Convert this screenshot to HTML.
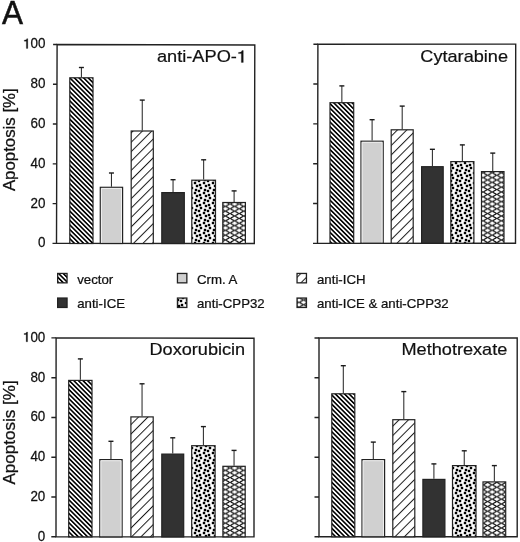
<!DOCTYPE html>
<html><head><meta charset="utf-8"><title>Apoptosis chart</title>
<style>
html,body{margin:0;padding:0;background:#fff;}
body{width:520px;height:542px;overflow:hidden;}
svg{display:block;will-change:transform;}
text{font-family:"Liberation Sans",sans-serif;fill:#111;}
</style></head><body>
<svg width="520" height="542" viewBox="0 0 520 542">
<defs>
<pattern id="pVec" patternUnits="userSpaceOnUse" width="3.25" height="10" patternTransform="rotate(-45)">
<rect width="3.25" height="10" fill="#fff"/><rect width="1.6" height="10" fill="#000"/></pattern>
<pattern id="pIch" patternUnits="userSpaceOnUse" width="6.65" height="10" patternTransform="rotate(45)">
<rect width="6.65" height="10" fill="#fff"/><rect width="1.0" height="10" fill="#1a1a1a"/></pattern>
<pattern id="pDot" patternUnits="userSpaceOnUse" width="9" height="10">
<rect width="9" height="10" fill="#fff"/>
<g fill="#000"><rect x="-0.2" y="-0.2" width="2.4" height="2.4"/><rect x="-0.2" y="9.8" width="2.4" height="2.4"/><rect x="8.8" y="-0.2" width="2.4" height="2.4"/><rect x="8.8" y="9.8" width="2.4" height="2.4"/><rect x="4.8" y="1.8" width="2.4" height="2.4"/><rect x="0.8" y="3.8" width="2.4" height="2.4"/><rect x="6.8" y="4.8" width="2.4" height="2.4"/><rect x="-2.2" y="4.8" width="2.4" height="2.4"/><rect x="1.8" y="6.8" width="2.4" height="2.4"/><rect x="5.8" y="8.8" width="2.4" height="2.4"/><rect x="5.8" y="-1.2" width="2.4" height="2.4"/></g></pattern>
<pattern id="pX" patternUnits="userSpaceOnUse" width="9.2" height="4.8">
<rect width="9.2" height="4.8" fill="#000"/>
<path d="M-3.40 0.00 L-1.05 -1.15 L0.00 -2.10 L1.05 -1.15 L3.40 0.00 L1.05 1.15 L0.00 2.10 L-1.05 1.15ZM5.80 0.00 L8.15 -1.15 L9.20 -2.10 L10.25 -1.15 L12.60 0.00 L10.25 1.15 L9.20 2.10 L8.15 1.15ZM-3.40 4.80 L-1.05 3.65 L0.00 2.70 L1.05 3.65 L3.40 4.80 L1.05 5.95 L0.00 6.90 L-1.05 5.95ZM5.80 4.80 L8.15 3.65 L9.20 2.70 L10.25 3.65 L12.60 4.80 L10.25 5.95 L9.20 6.90 L8.15 5.95ZM1.20 2.40 L3.55 1.25 L4.60 0.30 L5.65 1.25 L8.00 2.40 L5.65 3.55 L4.60 4.50 L3.55 3.55Z" fill="#fff"/>
</pattern>
</defs>

<text transform="translate(2 23.9) scale(0.955 1)" font-size="33" text-anchor="start" stroke="#111" stroke-width="0.5">A</text>
<path d="M57.1 44.5 L254.8 45 L254.3 243.5 L56.5 243.4Z" fill="none" stroke="#222" stroke-width="1.4" stroke-linejoin="miter"/>
<path d="M52.5 243.4H56.5M52.62 203.62H56.62M52.74 163.84H56.74M52.86 124.06H56.86M52.98 84.28H56.98M53.1 44.5H57.1" stroke="#222" stroke-width="1.4" fill="none"/>
<text transform="translate(45.5 247.4) scale(0.945 1)" font-size="14.2" text-anchor="end" stroke="#111" stroke-width="0.25">0</text>
<text transform="translate(45.5 207.6) scale(0.945 1)" font-size="14.2" text-anchor="end" stroke="#111" stroke-width="0.25">20</text>
<text transform="translate(45.5 167.8) scale(0.945 1)" font-size="14.2" text-anchor="end" stroke="#111" stroke-width="0.25">40</text>
<text transform="translate(45.5 128) scale(0.945 1)" font-size="14.2" text-anchor="end" stroke="#111" stroke-width="0.25">60</text>
<text transform="translate(45.5 88.2) scale(0.945 1)" font-size="14.2" text-anchor="end" stroke="#111" stroke-width="0.25">80</text>
<text transform="translate(45.5 48.4) scale(0.945 1)" font-size="14.2" text-anchor="end" stroke="#111" stroke-width="0.25">00</text>
<path transform="translate(23.11 48.4) scale(0.006552 -0.006934)" d="M495 0H715V1409H565C550 1330 505 1265 435 1232C365 1200 280 1190 170 1190V1045H495Z" fill="#111" stroke="#111" stroke-width="36.06"/>
<text transform="translate(15.4 139.7) rotate(-90) scale(1.065 1)" font-size="15.8" text-anchor="middle" stroke="#111" stroke-width="0.25">Apoptosis [%]</text>
<text transform="translate(236.93 62.4) scale(1.06 1)" font-size="17.2" text-anchor="end" stroke="#111" stroke-width="0.22">anti-APO-</text>
<path transform="translate(236.93 62.4) scale(0.008902 -0.008398)" d="M495 0H715V1409H565C550 1330 505 1265 435 1232C365 1200 280 1190 170 1190V1045H495Z" fill="#111" stroke="#111" stroke-width="29.77"/>
<path d="M81.4 77.2V67.4" stroke="#2a2a2a" stroke-width="1.05" fill="none"/>
<path d="M78.9 67.5H83.9" stroke="#1a1a1a" stroke-width="1.4" fill="none"/>
<rect x="69.8" y="77.8" width="23.2" height="165.7" fill="url(#pVec)" stroke="#222" stroke-width="1.2"/>
<path d="M111.45 186.7V172.9" stroke="#2a2a2a" stroke-width="1.05" fill="none"/>
<path d="M108.95 173H113.95" stroke="#1a1a1a" stroke-width="1.4" fill="none"/>
<rect x="100.3" y="187.3" width="22.3" height="56.2" fill="#d0d0d0" stroke="#222" stroke-width="1.2"/>
<path d="M101.4 242.7V188.4H121.5V242.7" fill="none" stroke="#f2f2f2" stroke-width="0.9"/>
<path d="M142.25 130.4V100" stroke="#2a2a2a" stroke-width="1.05" fill="none"/>
<path d="M139.75 100.1H144.75" stroke="#1a1a1a" stroke-width="1.4" fill="none"/>
<rect x="131.2" y="131" width="22.1" height="112.5" fill="url(#pIch)" stroke="#222" stroke-width="1.2"/>
<path d="M173.05 192V179.6" stroke="#2a2a2a" stroke-width="1.05" fill="none"/>
<path d="M170.55 179.7H175.55" stroke="#1a1a1a" stroke-width="1.4" fill="none"/>
<rect x="161.8" y="192.6" width="22.5" height="50.9" fill="#323232" stroke="#222" stroke-width="1.2"/>
<path d="M203.65 179.6V159.7" stroke="#2a2a2a" stroke-width="1.05" fill="none"/>
<path d="M201.15 159.8H206.15" stroke="#1a1a1a" stroke-width="1.4" fill="none"/>
<rect x="191.8" y="180.2" width="23.7" height="63.3" fill="url(#pDot)" stroke="#222" stroke-width="1.2"/>
<path d="M234.1 201.9V190.8" stroke="#2a2a2a" stroke-width="1.05" fill="none"/>
<path d="M231.6 190.9H236.6" stroke="#1a1a1a" stroke-width="1.4" fill="none"/>
<rect x="222.8" y="202.5" width="22.6" height="41" fill="url(#pX)" stroke="#222" stroke-width="1.2"/>
<path d="M317.9 44.2 L515.7 44.1 L515.5 243.2 L317.5 243.4Z" fill="none" stroke="#222" stroke-width="1.4" stroke-linejoin="miter"/>
<path d="M313 243.4H317.5M313.08 203.56H317.58M313.16 163.72H317.66M313.24 123.88H317.74M313.32 84.04H317.82M313.4 44.2H317.9" stroke="#222" stroke-width="1.4" fill="none"/>
<text transform="translate(508 61.9) scale(1.055 1)" font-size="17.2" text-anchor="end" stroke="#111" stroke-width="0.22">Cytarabine</text>
<path d="M341.85 102.1V85.8" stroke="#2a2a2a" stroke-width="1.05" fill="none"/>
<path d="M339.35 85.9H344.35" stroke="#1a1a1a" stroke-width="1.4" fill="none"/>
<rect x="330" y="102.7" width="23.7" height="140.5" fill="url(#pVec)" stroke="#222" stroke-width="1.2"/>
<path d="M372.1 140.6V119.6" stroke="#2a2a2a" stroke-width="1.05" fill="none"/>
<path d="M369.6 119.7H374.6" stroke="#1a1a1a" stroke-width="1.4" fill="none"/>
<rect x="361" y="141.2" width="22.2" height="102" fill="#d0d0d0" stroke="#222" stroke-width="1.2"/>
<path d="M362.1 242.4V142.3H382.1V242.4" fill="none" stroke="#f2f2f2" stroke-width="0.9"/>
<path d="M402.2 129.2V106" stroke="#2a2a2a" stroke-width="1.05" fill="none"/>
<path d="M399.7 106.1H404.7" stroke="#1a1a1a" stroke-width="1.4" fill="none"/>
<rect x="391.2" y="129.8" width="22" height="113.4" fill="url(#pIch)" stroke="#222" stroke-width="1.2"/>
<path d="M432.4 166.1V149.2" stroke="#2a2a2a" stroke-width="1.05" fill="none"/>
<path d="M429.9 149.3H434.9" stroke="#1a1a1a" stroke-width="1.4" fill="none"/>
<rect x="421.6" y="166.7" width="21.6" height="76.5" fill="#323232" stroke="#222" stroke-width="1.2"/>
<path d="M462.35 161V144.8" stroke="#2a2a2a" stroke-width="1.05" fill="none"/>
<path d="M459.85 144.9H464.85" stroke="#1a1a1a" stroke-width="1.4" fill="none"/>
<rect x="450.8" y="161.6" width="23.1" height="81.6" fill="url(#pDot)" stroke="#222" stroke-width="1.2"/>
<path d="M492.75 171V153" stroke="#2a2a2a" stroke-width="1.05" fill="none"/>
<path d="M490.25 153.1H495.25" stroke="#1a1a1a" stroke-width="1.4" fill="none"/>
<rect x="481.5" y="171.6" width="22.5" height="71.6" fill="url(#pX)" stroke="#222" stroke-width="1.2"/>
<path d="M56.1 337.9 L254 338.2 L254 536.9 L56 536.8Z" fill="none" stroke="#222" stroke-width="1.4" stroke-linejoin="miter"/>
<path d="M51.3 536.8H56M51.32 497.02H56.02M51.34 457.24H56.04M51.36 417.46H56.06M51.38 377.68H56.08M51.4 337.9H56.1" stroke="#222" stroke-width="1.4" fill="none"/>
<text transform="translate(45.3 540.8) scale(0.945 1)" font-size="14.2" text-anchor="end" stroke="#111" stroke-width="0.25">0</text>
<text transform="translate(45.3 501) scale(0.945 1)" font-size="14.2" text-anchor="end" stroke="#111" stroke-width="0.25">20</text>
<text transform="translate(45.3 461.2) scale(0.945 1)" font-size="14.2" text-anchor="end" stroke="#111" stroke-width="0.25">40</text>
<text transform="translate(45.3 421.4) scale(0.945 1)" font-size="14.2" text-anchor="end" stroke="#111" stroke-width="0.25">60</text>
<text transform="translate(45.3 381.6) scale(0.945 1)" font-size="14.2" text-anchor="end" stroke="#111" stroke-width="0.25">80</text>
<text transform="translate(45.3 341.8) scale(0.945 1)" font-size="14.2" text-anchor="end" stroke="#111" stroke-width="0.25">00</text>
<path transform="translate(22.91 341.8) scale(0.006552 -0.006934)" d="M495 0H715V1409H565C550 1330 505 1265 435 1232C365 1200 280 1190 170 1190V1045H495Z" fill="#111" stroke="#111" stroke-width="36.06"/>
<text transform="translate(15.4 432.4) rotate(-90) scale(1.08 1)" font-size="15.8" text-anchor="middle" stroke="#111" stroke-width="0.25">Apoptosis [%]</text>
<text transform="translate(245.2 355.3) scale(1.055 1)" font-size="17.2" text-anchor="end" stroke="#111" stroke-width="0.22">Doxorubicin</text>
<path d="M80.35 379.8V358.8" stroke="#2a2a2a" stroke-width="1.05" fill="none"/>
<path d="M77.85 358.9H82.85" stroke="#1a1a1a" stroke-width="1.4" fill="none"/>
<rect x="68.7" y="380.4" width="23.3" height="156.5" fill="url(#pVec)" stroke="#222" stroke-width="1.2"/>
<path d="M110.95 459V441.2" stroke="#2a2a2a" stroke-width="1.05" fill="none"/>
<path d="M108.45 441.3H113.45" stroke="#1a1a1a" stroke-width="1.4" fill="none"/>
<rect x="99.8" y="459.6" width="22.3" height="77.3" fill="#d0d0d0" stroke="#222" stroke-width="1.2"/>
<path d="M100.9 536.1V460.7H121V536.1" fill="none" stroke="#f2f2f2" stroke-width="0.9"/>
<path d="M142.05 416.3V383.7" stroke="#2a2a2a" stroke-width="1.05" fill="none"/>
<path d="M139.55 383.8H144.55" stroke="#1a1a1a" stroke-width="1.4" fill="none"/>
<rect x="130.9" y="416.9" width="22.3" height="120" fill="url(#pIch)" stroke="#222" stroke-width="1.2"/>
<path d="M172.75 453.5V437.7" stroke="#2a2a2a" stroke-width="1.05" fill="none"/>
<path d="M170.25 437.8H175.25" stroke="#1a1a1a" stroke-width="1.4" fill="none"/>
<rect x="161.8" y="454.1" width="21.9" height="82.8" fill="#323232" stroke="#222" stroke-width="1.2"/>
<path d="M203.4 445.1V426.5" stroke="#2a2a2a" stroke-width="1.05" fill="none"/>
<path d="M200.9 426.6H205.9" stroke="#1a1a1a" stroke-width="1.4" fill="none"/>
<rect x="191.7" y="445.7" width="23.4" height="91.2" fill="url(#pDot)" stroke="#222" stroke-width="1.2"/>
<path d="M234.05 465.7V450.3" stroke="#2a2a2a" stroke-width="1.05" fill="none"/>
<path d="M231.55 450.4H236.55" stroke="#1a1a1a" stroke-width="1.4" fill="none"/>
<rect x="222.9" y="466.3" width="22.3" height="70.6" fill="url(#pX)" stroke="#222" stroke-width="1.2"/>
<path d="M319 338 L517.2 338 L517.2 536.8 L319 536.8Z" fill="none" stroke="#222" stroke-width="1.4" stroke-linejoin="miter"/>
<path d="M314.5 536.8H319M314.5 497.04H319M314.5 457.28H319M314.5 417.52H319M314.5 377.76H319M314.5 338H319" stroke="#222" stroke-width="1.4" fill="none"/>
<text transform="translate(507.3 355.3) scale(1.055 1)" font-size="17.2" text-anchor="end" stroke="#111" stroke-width="0.22">Methotrexate</text>
<path d="M343.3 393.2V365.6" stroke="#2a2a2a" stroke-width="1.05" fill="none"/>
<path d="M340.8 365.7H345.8" stroke="#1a1a1a" stroke-width="1.4" fill="none"/>
<rect x="331.8" y="393.8" width="23" height="143" fill="url(#pVec)" stroke="#222" stroke-width="1.2"/>
<path d="M373.3 459V442" stroke="#2a2a2a" stroke-width="1.05" fill="none"/>
<path d="M370.8 442.1H375.8" stroke="#1a1a1a" stroke-width="1.4" fill="none"/>
<rect x="362" y="459.6" width="22.6" height="77.2" fill="#d0d0d0" stroke="#222" stroke-width="1.2"/>
<path d="M363.1 536V460.7H383.5V536" fill="none" stroke="#f2f2f2" stroke-width="0.9"/>
<path d="M403.8 419.1V391.5" stroke="#2a2a2a" stroke-width="1.05" fill="none"/>
<path d="M401.3 391.6H406.3" stroke="#1a1a1a" stroke-width="1.4" fill="none"/>
<rect x="392.8" y="419.7" width="22" height="117.1" fill="url(#pIch)" stroke="#222" stroke-width="1.2"/>
<path d="M433.9 478.8V463.8" stroke="#2a2a2a" stroke-width="1.05" fill="none"/>
<path d="M431.4 463.9H436.4" stroke="#1a1a1a" stroke-width="1.4" fill="none"/>
<rect x="422.9" y="479.4" width="22" height="57.4" fill="#323232" stroke="#222" stroke-width="1.2"/>
<path d="M464.25 465V450.7" stroke="#2a2a2a" stroke-width="1.05" fill="none"/>
<path d="M461.75 450.8H466.75" stroke="#1a1a1a" stroke-width="1.4" fill="none"/>
<rect x="452.5" y="465.6" width="23.5" height="71.2" fill="url(#pDot)" stroke="#222" stroke-width="1.2"/>
<path d="M494.35 481.3V465.5" stroke="#2a2a2a" stroke-width="1.05" fill="none"/>
<path d="M491.85 465.6H496.85" stroke="#1a1a1a" stroke-width="1.4" fill="none"/>
<rect x="483" y="481.9" width="22.7" height="54.9" fill="url(#pX)" stroke="#222" stroke-width="1.2"/>
<rect x="57.65" y="273.45" width="9.4" height="9.4" fill="url(#pVec)" stroke="#222" stroke-width="1.3"/>
<text transform="translate(77.2 283.5) scale(1.035 1)" font-size="12.8" text-anchor="start" stroke="#111" stroke-width="0.25">vector</text>
<rect x="177.45" y="273.45" width="9.4" height="9.4" fill="#d0d0d0" stroke="#222" stroke-width="1.3"/>
<text transform="translate(197 283.5) scale(1.035 1)" font-size="12.8" text-anchor="start" stroke="#111" stroke-width="0.25">Crm. A</text>
<rect x="297.05" y="273.45" width="9.4" height="9.4" fill="url(#pIch)" stroke="#222" stroke-width="1.3"/>
<text transform="translate(317 283.5) scale(1.035 1)" font-size="12.8" text-anchor="start" stroke="#111" stroke-width="0.25">anti-ICH</text>
<rect x="57.65" y="298.05" width="9.4" height="9.4" fill="#323232" stroke="#222" stroke-width="1.3"/>
<text transform="translate(77.2 308.1) scale(1.035 1)" font-size="12.8" text-anchor="start" stroke="#111" stroke-width="0.25">anti-ICE</text>
<rect x="177.45" y="298.05" width="9.4" height="9.4" fill="url(#pDot)" stroke="#222" stroke-width="1.3"/>
<text transform="translate(197 308.1) scale(1.035 1)" font-size="12.8" text-anchor="start" stroke="#111" stroke-width="0.25">anti-CPP32</text>
<rect x="297.05" y="298.05" width="9.4" height="9.4" fill="url(#pX)" stroke="#222" stroke-width="1.3"/>
<text transform="translate(317 308.1) scale(1.035 1)" font-size="12.8" text-anchor="start" stroke="#111" stroke-width="0.25">anti-ICE &amp; anti-CPP32</text>
</svg></body></html>
